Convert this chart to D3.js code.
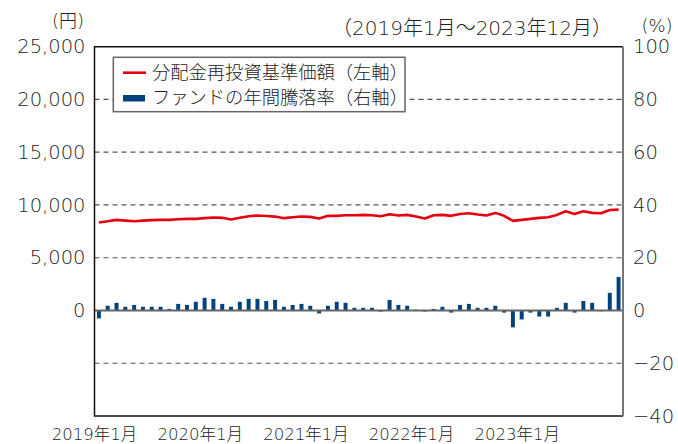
<!DOCTYPE html>
<html lang="ja">
    <head>
        <meta charset="utf-8">
        <title>分配金再投資基準価額とファンドの年間騰落率</title>
        <style>
            body { margin: 0; background: #fff; }
            svg text { font-family: "DejaVu Sans", "Noto Sans CJK JP", sans-serif; font-weight: 200; fill: #222; }
            .jp { font-family: "Noto Sans CJK JP", sans-serif; }
        </style>
    </head>
    <body>
        <div id="chart"></div>
        <script src="https://cdnjs.cloudflare.com/ajax/libs/d3/7.8.5/d3.min.js"></script>
        <script>
            // monthly categories 2019/1 .. 2023/12
            const months = [];
            for (let y = 2019; y <= 2023; y++) {
                for (let m = 1; m <= 12; m++) months.push(y + "年" + m + "月");
            }
            const xTicks = ["2019年1月", "2020年1月", "2021年1月", "2022年1月", "2023年1月"];

            // 分配金再投資基準価額 (円)
            const navValues = [
                8340, 8460, 8590, 8520, 8460, 8520, 8560, 8590, 8590, 8650, 8680, 8680,
                8750, 8810, 8780, 8620, 8780, 8930, 9000, 8950, 8900, 8750, 8840, 8900,
                8870, 8710, 8970, 8970, 9030, 9030, 9060, 9030, 8930, 9120, 9000, 9060,
                8900, 8710, 9030, 9060, 8970, 9150, 9220, 9090, 9000, 9250, 8970, 8490,
                8590, 8680, 8780, 8840, 9060, 9400, 9150, 9400, 9250, 9220, 9530, 9560
            ];
            // ファンドの年間騰落率 (%)
            const returnValues = [
                -3.0, 1.8, 2.9, 1.4, 2.1, 1.4, 1.4, 1.4, 0.6, 2.5, 2.1, 3.3,
                4.8, 4.4, 2.5, 1.4, 3.3, 4.4, 4.4, 3.6, 4.0, 1.4, 2.1, 2.5,
                1.8, -1.1, 1.8, 3.3, 2.9, 1.0, 1.0, 1.0, -0.4, 4.0, 2.1, 1.8,
                0.3, -0.4, 0.6, 1.4, -0.8, 2.1, 2.5, 1.0, 1.0, 1.8, -0.8, -6.4,
                -3.4, -0.8, -2.3, -2.3, 1.0, 2.9, -0.8, 3.6, 2.9, -0.3, 6.7, 12.7
            ];

            const leftTicks = [0, 5000, 10000, 15000, 20000, 25000];
            const rightTicks = [-40, -20, 0, 20, 40, 60, 80, 100];
            const gridTicks = [-20, 20, 40, 60, 80];

            const W = 678, H = 444;
            const L = 94.5, R = 623, T = 46.7, B = 416;

            const svg = d3.select("#chart").append("svg")
                .attr("width", W)
                .attr("height", H);

            const x = d3.scaleBand().domain(months).range([L, R]);
            const barW = x.bandwidth() * 0.45;
            const yL = d3.scaleLinear().domain([-10000, 25000]).range([B, T]);
            const yR = d3.scaleLinear().domain([-40, 100]).range([B, T]);

            // dashed grid
            svg.append("g").selectAll("line")
                .data(gridTicks)
                .join("line")
                .attr("x1", L).attr("x2", R)
                .attr("y1", d => yR(d)).attr("y2", d => yR(d))
                .attr("stroke", "#555")
                .attr("stroke-width", 1.2)
                .attr("stroke-dasharray", "5,4");

            // bars
            svg.append("g").selectAll("rect")
                .data(returnValues)
                .join("rect")
                .attr("x", (d, i) => x(months[i]) + x.bandwidth() / 2 - barW / 2)
                .attr("y", d => yR(Math.max(0, d)))
                .attr("width", barW)
                .attr("height", d => Math.abs(yR(d) - yR(0)))
                .attr("fill", "#00427c");

            // zero line
            svg.append("line")
                .attr("x1", L).attr("x2", R)
                .attr("y1", yR(0)).attr("y2", yR(0))
                .attr("stroke", "#666")
                .attr("stroke-width", 2);

            // NAV line
            const line = d3.line()
                .x((d, i) => x(months[i]) + x.bandwidth() / 2)
                .y(d => yL(d));
            svg.append("path")
                .datum(navValues)
                .attr("d", line)
                .attr("fill", "none")
                .attr("stroke", "#e60012")
                .attr("stroke-width", 2.6)
                .attr("stroke-linejoin", "round");

            // frame
            svg.append("path")
                .attr("d", `M${R},${T}H${L}V${B}H${R}`)
                .attr("fill", "none")
                .attr("stroke", "#111")
                .attr("stroke-width", 1.5);
            svg.append("line")
                .attr("x1", R).attr("x2", R)
                .attr("y1", T).attr("y2", B)
                .attr("stroke", "#777")
                .attr("stroke-width", 2);

            // axes
            const axL = svg.append("g")
                .attr("transform", `translate(${L},0)`)
                .call(d3.axisLeft(yL).tickValues(leftTicks).tickSize(0).tickPadding(9)
                    .tickFormat(d3.format(",")));
            const axR = svg.append("g")
                .attr("transform", `translate(${R},0)`)
                .call(d3.axisRight(yR).tickValues(rightTicks).tickSize(0).tickPadding(10)
                    .tickFormat(d => d < 0 ? "\u2212" + Math.abs(d) : d));
            const axB = svg.append("g")
                .attr("transform", `translate(0,${B})`)
                .call(d3.axisBottom(x).tickValues(xTicks).tickSize(0).tickPadding(12));
            axB.selectAll(".tick").attr("transform", d => `translate(${x(d)},0)`);

            [axL, axR, axB].forEach(g => {
                g.select(".domain").remove();
                g.selectAll("text").attr("fill", "#222").style("font-family", null);
            });
            axL.selectAll("text").attr("font-size", 19.5);
            axR.selectAll("text").attr("font-size", 19.5);
            axB.selectAll("text").attr("font-size", 16.5);

            // unit labels and period
            svg.append("text").attr("x", 68).attr("y", 27)
                .attr("text-anchor", "middle").attr("font-size", 18).text("(円)");
            svg.append("text").attr("x", 657).attr("y", 32)
                .attr("text-anchor", "middle").attr("font-size", 18).text("(%)");
            svg.append("text").attr("x", 612).attr("y", 35)
                .attr("text-anchor", "end").attr("font-size", 20).text("（2019年1月～2023年12月）");

            // legend
            const lg = svg.append("g");
            lg.append("rect")
                .attr("x", 113.3).attr("y", 57.3)
                .attr("width", 291.7).attr("height", 54.4)
                .attr("fill", "#fff")
                .attr("stroke", "#666")
                .attr("stroke-width", 1.5);
            lg.append("line")
                .attr("x1", 123).attr("x2", 146)
                .attr("y1", 72.7).attr("y2", 72.7)
                .attr("stroke", "#e60012").attr("stroke-width", 2.6);
            lg.append("rect")
                .attr("x", 123).attr("y", 95)
                .attr("width", 22).attr("height", 6.5)
                .attr("fill", "#00427c");
            lg.append("text").attr("class", "jp")
                .attr("x", 152).attr("y", 79).attr("font-size", 18.3)
                .text("分配金再投資基準価額（左軸）");
            lg.append("text").attr("class", "jp")
                .attr("x", 152).attr("y", 104).attr("font-size", 18.3)
                .text("ファンドの年間騰落率（右軸）");
        </script>
    </body>
</html>
